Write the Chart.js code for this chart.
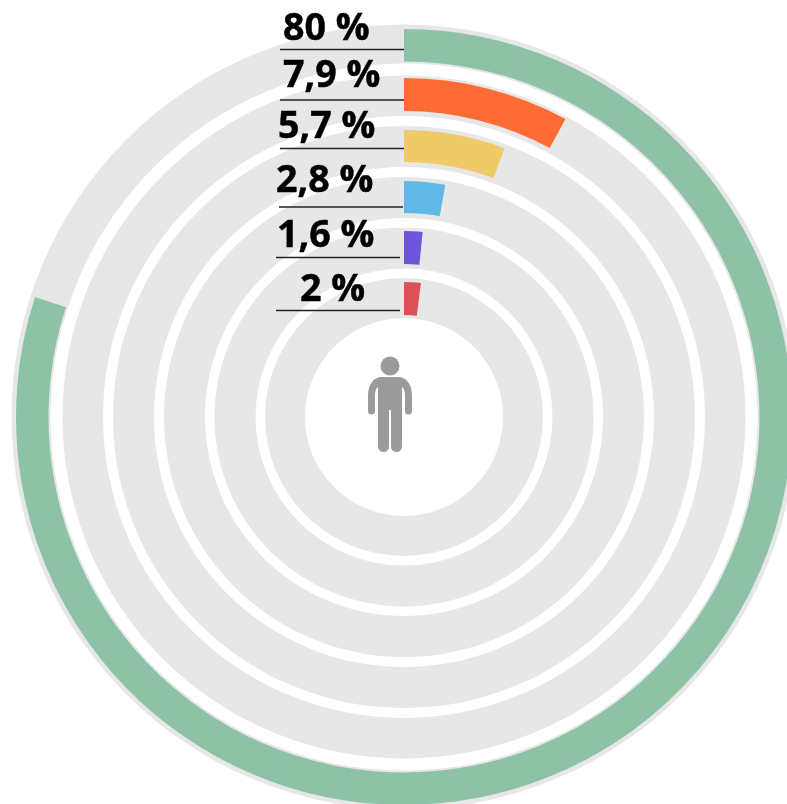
<!DOCTYPE html>
<html><head><meta charset="utf-8">
<script src="https://cdn.jsdelivr.net/npm/chart.js@4"></script>
<style>
html,body{margin:0;padding:0;background:#fff;overflow:hidden}
#stage{position:relative;width:787px;height:804px;overflow:hidden}
canvas{position:absolute;left:-13px;top:0;filter:blur(0.5px)}
svg{position:absolute;left:0;top:0}
text{font-family:"Open Sans";font-weight:700;font-size:37.6px;fill:#000;stroke:#000;stroke-width:0.5px}
</style></head><body>
<div id="stage">
<canvas id="tracks" width="834" height="834"></canvas>
<canvas id="values" width="834" height="834"></canvas>
<svg id="overlay" width="787" height="804" xmlns="http://www.w3.org/2000/svg"></svg>
</div>
<script>
// data
const labels = ['80 %','7,9 %','5,7 %','2,8 %','1,6 %','2 %'];
const values = [80,7.9,5.7,2.8,1.6,2];
const colors = ['#8EC2A6','#FF6B35','#EFCA68','#5FB8E6','#6F55DB','#DC5258'];
const trackColor = '#E7E7E7';
// layout (radii in px, from the outside in)
const outerR = 392.5, innerR = 99;
const trackBands = [[392.5,353.5],[341.5,301],[291,250],[240,199],[189.5,148.5],[139,99]];
const valueBands = [[388,355.5],[339,306],[287,255],[236,204],[186,153],[135,102]];
const labelX = [283,283,278,276,277,300];
const labelY = [40,87,138,192,247,301];
const ruleX = [[280,404],[280,404],[280,404],[279,403],[276,400],[276,400]];
const ruleY = [49.5,100,148.5,207,257.5,310.5];

function ringDatasets(bands, makeData, makeColor){
  const out = []; let r = outerR;
  bands.forEach((b,i)=>{
    if (r - b[0] > 0) out.push({data:[1],backgroundColor:['rgba(0,0,0,0)'],weight:r-b[0],borderWidth:0});
    out.push({data:makeData(i),backgroundColor:makeColor(i),weight:b[0]-b[1],borderWidth:0});
    r = b[1];
  });
  if (r - innerR > 0) out.push({data:[1],backgroundColor:['rgba(0,0,0,0)'],weight:r-innerR,borderWidth:0});
  return out;
}
function draw(id, datasets){
  return new Chart(document.getElementById(id),{
    type:'doughnut',
    data:{datasets},
    options:{responsive:false,animation:false,radius:outerR,
      cutout:(innerR/outerR*100)+'%',
      layout:{padding:0},
      plugins:{legend:{display:false},tooltip:{enabled:false}},
      elements:{arc:{borderWidth:0}}}
  });
}
draw('tracks', ringDatasets(trackBands, ()=>[1], ()=>[trackColor]));
draw('values', ringDatasets(valueBands, i=>[values[i],100-values[i]], i=>[colors[i],'rgba(0,0,0,0)']));

// labels, rules, person
const NS='http://www.w3.org/2000/svg', svg=document.getElementById('overlay');
function el(n,a,t){const e=document.createElementNS(NS,n);for(const k in a)e.setAttribute(k,a[k]);if(t)e.textContent=t;svg.appendChild(e);}
labels.forEach((l,i)=>{
  el('text',{x:labelX[i],y:labelY[i]},l);
  el('line',{x1:ruleX[i][0],x2:ruleX[i][1],y1:ruleY[i],y2:ruleY[i],stroke:'#222',"stroke-width":1.5});
});
el('circle',{cx:390,cy:366,r:9.500,fill:'#9B9B9B'});
el('path',{fill:'#9B9B9B',d:'M382 377H398C407 377 412 385 412 396V411a3.5 3.5 0 0 1-7 0V396C405 391 404 388 402 387V446.500a5.500 5.500 0 0 1-11 0V410H389V446.500a5.500 5.500 0 0 1-11 0V387C376 388 375 391 375 396V411a3.500 3.500 0 0 1-7 0V396C368 385 373 377 382 377Z'});
</script>
</body></html>
